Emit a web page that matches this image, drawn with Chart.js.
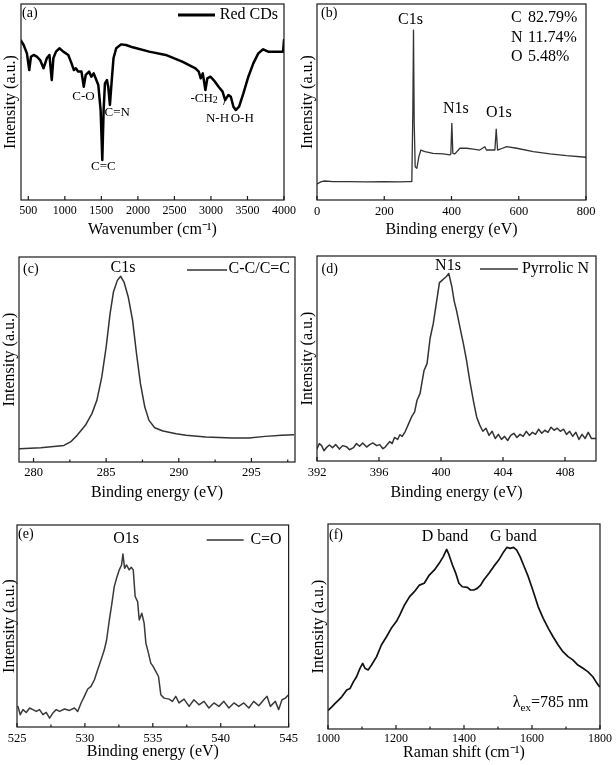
<!DOCTYPE html>
<html><head><meta charset="utf-8">
<script src="https://cdn.jsdelivr.net/npm/chart.js@4.4.0/dist/chart.umd.min.js"></script>
<style>
html,body{margin:0;padding:0;background:#fff;}
body{width:616px;height:765px;position:relative;overflow:hidden;}
canvas{position:absolute;}
</style>
</head><body>
<canvas id="pa"></canvas><canvas id="pb"></canvas>
<canvas id="pc"></canvas><canvas id="pd"></canvas>
<canvas id="pe"></canvas><canvas id="pf"></canvas>
<script>
const SERIF = "'Liberation Serif','Times New Roman',serif";

// (a) FTIR
const ftirWavenumber = [400,436,481,513,536,572,617,662,708,753,
  789,821,843,879,925,979,1047,1092,1124,1151,
  1182,1228,1259,1286,1332,1363,1395,1431,1458,1490,
  1513,1531,1549,1576,1594,1617,1639,1666,1703,1770,
  1838,1929,2155,2381,2607,2788,2833,2860,2888,2924,
  2951,2992,3037,3105,3159,3195,3240,3272,3308,3340,
  3385,3444,3512,3580,3648,3715,3783,3874,3987,3998,
  4000];
const ftirIntensity = [81.3,79.1,74.8,66.3,73.1,74.0,73.1,71.4,67.2,72.3,
  74.0,61.2,72.3,75.7,77.4,75.7,74.0,69.7,66.3,67.2,
  65.5,65.5,57.8,63.8,65.5,62.9,64.6,61.2,58.7,45.9,
  20.4,45.9,59.5,61.2,57.8,48.5,59.5,72.3,77.4,79.4,
  79.1,77.9,75.7,74.0,70.6,67.2,65.5,62.1,64.6,56.1,
  62.1,62.9,61.2,57.8,55.3,51.0,53.6,52.7,47.6,45.9,
  47.6,54.4,62.9,69.7,74.8,76.9,75.7,75.7,75.7,75.7,
  81.6];
const ftirTicks = [500,1000,1500,2000,2500,3000,3500,4000];

// (b) XPS survey
const surveyEnergy = [0,13,23,48,97,147,197,246,270,282,
  285,287,289,292,297,303,309,321,345,375,
  395,398,401,404,410,425,445,465,484,499,
  504,529,533,537,544,564,594,643,693,742,
  800];
const surveyIntensity = [8.2,9.4,9.7,9.4,9.4,9.2,9.4,9.2,9.4,9.4,
  45,86.7,40,17.0,16.2,22.1,25.5,24.7,23.8,23.5,
  23.0,23.5,39.1,23.8,23.5,26.4,26.4,26.0,25.5,27.2,
  25.5,25.5,36.1,25.5,25.9,27.2,26.4,24.7,23.5,22.6,
  21.8];
const surveyTicks = [0,200,400,600,800];

// (c) C1s
const c1sEnergy = [279.05,280.5,282.09,282.55,283.0,283.57,284.02,284.36,284.7,285.0,
  285.27,285.5,285.77,286.0,286.23,286.52,286.82,287.09,287.36,287.66,
  287.95,288.34,288.91,289.82,290.5,291.86,293.68,294.82,295.95,297.09,
  297.9];
const c1sIntensity = [6.5,7.0,8.1,9.8,13.0,17.9,23.6,30.1,41.5,56.1,
  72.4,82.9,88.6,90.6,87.8,80.5,69.1,52.8,38.2,26.8,
  20.3,16.7,15.1,13.8,13.0,12.2,11.7,11.7,12.5,13.0,
  13.3];
const c1sTicks = [280,285,290,295];
const c1sMinorTicks = [282.5,287.5,292.5,297.5];

// (d) N1s
const n1sEnergy = [392.0,392.15,392.3,392.45,392.6,392.8,393.0,393.2,393.45,393.65,
  393.9,394.1,394.35,394.55,394.75,394.95,395.2,395.4,395.6,395.85,
  396.05,396.25,396.4,396.7,396.85,397.0,397.2,397.35,397.5,397.7,
  397.9,398.1,398.3,398.45,398.65,398.9,399.1,399.3,399.5,399.7,
  399.9,400.05,400.2,400.35,400.5,400.7,400.85,401.0,401.2,401.45,
  401.65,401.85,402.1,402.3,402.5,402.7,402.9,403.1,403.3,403.5,
  403.7,403.9,404.1,404.3,404.5,404.7,404.9,405.1,405.3,405.5,
  405.7,405.9,406.1,406.3,406.5,406.7,406.9,407.1,407.3,407.5,
  407.7,407.9,408.1,408.3,408.5,408.7,408.9,409.1,409.3,409.5,
  409.7,410.0];
const n1sIntensity = [6.0,8.5,7.5,5.0,6.5,7.8,6.5,8.0,5.8,7.5,
  7.0,5.5,6.5,8.5,7.2,8.8,6.8,8.0,8.8,7.5,
  8.0,6.0,6.8,9.5,8.5,11.5,10.5,12.8,12.0,14.5,
  18.0,21.5,24.0,29.5,33.0,44.0,47.5,60.0,67.0,77.0,
  87.0,88.0,89.0,90.0,91.5,85.0,78.0,73.5,66.0,57.0,
  49.0,39.5,29.0,21.5,17.5,14.5,16.0,12.5,14.5,11.0,
  13.0,10.5,12.0,10.0,12.5,13.5,11.5,13.0,12.0,14.5,
  12.5,14.0,13.0,15.5,13.5,15.0,14.0,16.5,15.0,16.0,
  14.5,15.5,13.0,14.5,12.0,14.0,10.5,13.0,11.0,14.0,
  11.0,11.0];
const n1sTicks = [392,396,400,404,408];

// (e) O1s
const o1sEnergy = [525.07,525.24,525.44,525.68,525.93,526.17,526.42,526.66,526.91,527.15,
  527.4,527.64,527.89,528.13,528.5,528.86,529.23,529.47,529.72,529.96,
  530.21,530.45,530.7,530.94,531.19,531.43,531.6,531.8,531.99,532.16,
  532.33,532.53,532.7,532.8,532.92,533.07,533.26,533.41,533.56,533.7,
  533.88,534.0,534.19,534.36,534.49,534.68,534.85,535.02,535.22,535.42,
  535.59,535.83,536.2,536.44,536.69,536.93,537.3,537.67,538.03,538.4,
  538.77,539.13,539.5,539.87,540.23,540.6,540.97,541.33,541.7,542.07,
  542.43,542.8,543.17,543.41,543.66,544.02,544.27,544.51,544.76,545.0];
const o1sIntensity = [10.2,6.1,8.6,7.2,9.4,8.6,7.7,8.6,6.1,7.2,
  4.4,6.9,8.6,7.7,8.9,8.2,9.4,7.7,11.9,15.2,
  18.8,20.1,23.4,28.3,33.3,38.2,43.2,53.0,61.3,69.5,
  73.6,77.8,80.2,85.7,78.6,80.2,77.8,79.1,77.8,64.6,
  62.1,53.0,56.3,51.4,41.5,36.6,31.6,30.0,27.5,25.0,
  16.0,14.3,13.8,12.7,15.2,11.9,13.8,10.2,13.5,11.0,
  12.7,9.4,11.9,10.2,12.7,9.4,11.9,10.2,11.9,9.4,
  12.7,10.5,13.5,15.2,10.2,12.7,8.6,13.5,14.3,16.0];
const o1sTicks = [525,530,535,540,545];
const o1sMinorTicks = [527.5,532.5,537.5,542.5];

// (f) Raman
const ramanShift = [1002,1012,1021,1031,1041,1055,1065,1075,1084,1094,
  1102,1109,1118,1128,1143,1157,1172,1186,1201,1211,
  1225,1240,1254,1269,1283,1298,1313,1327,1339,1349,
  1356,1366,1376,1385,1395,1410,1419,1429,1439,1449,
  1458,1473,1487,1502,1517,1526,1536,1546,1555,1565,
  1575,1589,1604,1618,1633,1648,1662,1677,1691,1706,
  1720,1735,1750,1764,1779,1788,1798];
const ramanIntensity = [9.3,10.9,12.5,14.1,15.8,19.0,19.8,23.1,25.5,29.6,
  32.0,29.6,28.8,31.2,35.3,41.0,45.0,49.1,52.4,55.6,
  60.5,64.6,67.0,70.2,71.1,75.1,77.6,80.8,84.1,87.6,
  84.9,80.0,75.9,71.1,69.4,69.1,67.8,67.8,68.6,70.2,
  72.7,75.9,79.2,82.4,86.5,88.6,88.1,88.6,87.3,84.1,
  80.0,74.3,67.0,59.7,54.0,49.1,45.0,41.0,37.7,35.3,
  33.7,31.2,29.6,28.0,25.5,23.1,20.7];
const ramanTicks = [1000,1200,1400,1600,1800];
const ramanMinorTicks = [1100,1300,1500,1700];

// annotation texts
const ftirBands = ['C-O','C=N','C=C','-CH2','N-H','O-H'];
const composition = [['C','82.79%'],['N','11.74%'],['O','5.48%']];

function label(ctx, s, x, y, size, align) {
  ctx.font = size + 'px ' + SERIF;
  ctx.fillStyle = '#000';
  ctx.textAlign = align || 'center';
  ctx.textBaseline = 'middle';
  ctx.fillText(s, x, y);
}
function seg(ctx, x1, y1, x2, y2, w, c) {
  ctx.save(); ctx.strokeStyle = c || '#000'; ctx.lineWidth = w;
  ctx.beginPath(); ctx.moveTo(x1, y1); ctx.lineTo(x2, y2); ctx.stroke(); ctx.restore();
}
function drawFrame(chart, o) {
  const {ctx, chartArea: a, scales: {x}} = chart;
  ctx.save();
  ctx.strokeStyle = '#1a1a1a'; ctx.lineWidth = 1.2;
  ctx.strokeRect(a.left, a.top, a.right - a.left, a.bottom - a.top);
  ctx.beginPath();
  o.ticks.forEach(v => { const p = x.getPixelForValue(v); ctx.moveTo(p, a.bottom); ctx.lineTo(p, a.bottom - 4); });
  (o.minor || []).forEach(v => { const p = x.getPixelForValue(v); ctx.moveTo(p, a.bottom); ctx.lineTo(p, a.bottom - 2.5); });
  ctx.stroke();
  ctx.restore();
}

function makePanel(o) {
  const cv = document.getElementById(o.id);
  const W = (o.plot[2] - o.plot[0]) + o.pad[0] + o.pad[2];
  const H = (o.plot[3] - o.plot[1]) + o.pad[1] + o.pad[3];
  cv.width = W; cv.height = H;
  cv.style.left = (o.plot[0] - o.pad[0]) + 'px';
  cv.style.top = (o.plot[1] - o.pad[1]) + 'px';
  cv.style.width = W + 'px'; cv.style.height = H + 'px';
  const pts = o.xs.map((x, i) => ({x: x, y: o.ys[i]}));
  return new Chart(cv, {
    type: 'line',
    data: {datasets: [{data: pts, borderColor: o.color, borderWidth: o.lw, pointRadius: 0,
      tension: 0, fill: false, borderJoinStyle: 'round', borderCapStyle: 'round'}]},
    options: {
      responsive: false, maintainAspectRatio: false, animation: false, devicePixelRatio: 1, events: [],
      layout: {padding: {left: 0, top: o.pad[1], right: o.pad[2], bottom: 0}},
      plugins: {legend: {display: false}, tooltip: {enabled: false}},
      scales: {
        x: {type: 'linear', min: o.xmin, max: o.xmax,
          afterBuildTicks: s => { s.ticks = o.ticks.map(v => ({value: v})); },
          afterFit: s => { s.height = o.pad[3]; },
          grid: {display: false, drawTicks: false}, border: {display: false},
          ticks: {autoSkip: false, maxRotation: 0, minRotation: 0, padding: o.tickPad, color: '#000',
            font: {family: SERIF, size: o.tickSize}, callback: v => String(v)},
          title: {display: true, text: o.xTitle, color: '#000', font: {family: SERIF, size: 16}, padding: 0}},
        y: {type: 'linear', min: 0, max: 100,
          afterFit: s => { s.width = o.pad[0]; },
          grid: {display: false, drawTicks: false}, border: {display: false}, ticks: {display: false},
          title: {display: true, text: 'Intensity (a.u.)', color: '#000', font: {family: SERIF, size: 16}, padding: 0}}
      }
    },
    plugins: [{id: 'decor', afterDatasetsDraw(chart) { drawFrame(chart, o); if (o.decor) o.decor(chart); }}]
  });
}

// (a)
makePanel({id: 'pa', plot: [21, 4, 286, 200], pad: [20, 4, 14, 39], xmin: 400, xmax: 4000,
  xs: ftirWavenumber, ys: ftirIntensity, ticks: ftirTicks, tickSize: 12, tickPad: 4,
  xTitle: 'Wavenumber (cm\u207B\u00B9)', color: '#000', lw: 2.5,
  decor: chart => {
    const {ctx, chartArea: a, scales: {x, y}} = chart;
    label(ctx, '(a)', a.left + 1, a.top + 9.5, 14, 'left');
    seg(ctx, a.right - 106, a.top + 11, a.right - 69, a.top + 11, 3);
    label(ctx, 'Red CDs', a.right - 6, a.top + 11, 16, 'right');
    const bx = [1256, 1718, 1528, 2906, 3090, 3429];
    const by = [52.6, 44.4, 17.3, 51.5, 41.3, 41.3];
    ftirBands.forEach((t, i) => {
      const px = x.getPixelForValue(bx[i]), py = y.getPixelForValue(by[i]);
      if (t === '-CH2') {
        ctx.font = '13px ' + SERIF;
        const w1 = ctx.measureText('-CH').width;
        ctx.font = '10px ' + SERIF;
        const w2 = ctx.measureText('2').width;
        const s = px - (w1 + w2) / 2;
        label(ctx, '-CH', s, py, 13, 'left');
        label(ctx, '2', s + w1, py + 1, 10, 'left');
      } else {
        label(ctx, t, px, py, 13);
      }
    });
    seg(ctx, x.getPixelForValue(3171), y.getPixelForValue(48.5), x.getPixelForValue(3205), y.getPixelForValue(52), 0.8);
  }});

// (b)
makePanel({id: 'pb', plot: [317, 4, 586, 200], pad: [19, 4, 14, 39], xmin: 0, xmax: 800,
  xs: surveyEnergy, ys: surveyIntensity, ticks: surveyTicks, tickSize: 12.5, tickPad: 4,
  xTitle: 'Binding energy (eV)', color: '#333', lw: 1.3,
  decor: chart => {
    const {ctx, chartArea: a, scales: {x, y}} = chart;
    label(ctx, '(b)', a.left + 4, a.top + 9, 14, 'left');
    label(ctx, 'C1s', x.getPixelForValue(278), y.getPixelForValue(92.1), 16);
    label(ctx, 'N1s', x.getPixelForValue(413), y.getPixelForValue(46.4), 16);
    label(ctx, 'O1s', x.getPixelForValue(541), y.getPixelForValue(44.6), 16);
    const rows = [13.7, 33.5, 52.7];
    composition.forEach((c, i) => {
      label(ctx, c[0], a.right - 75, a.top + rows[i], 16, 'left');
      label(ctx, c[1], a.right - 58, a.top + rows[i], 16, 'left');
    });
  }});

// (c)
makePanel({id: 'pc', plot: [19, 257, 295, 462], pad: [19, 7, 12, 40], xmin: 279, xmax: 298,
  xs: c1sEnergy, ys: c1sIntensity, ticks: c1sTicks, minor: c1sMinorTicks, tickSize: 12.5, tickPad: 3,
  xTitle: 'Binding energy (eV)', color: '#333', lw: 1.5,
  decor: chart => {
    const {ctx, chartArea: a, scales: {x, y}} = chart;
    label(ctx, '(c)', a.left + 4, a.top + 12, 14, 'left');
    label(ctx, 'C1s', x.getPixelForValue(286.16), y.getPixelForValue(94.6), 16);
    seg(ctx, a.right - 108, a.top + 13, a.right - 68, a.top + 13, 1.5, '#333');
    label(ctx, 'C-C/C=C', a.right - 5, a.top + 12, 16, 'right');
  }});

// (d)
makePanel({id: 'pd', plot: [317, 256, 596, 461], pad: [19, 6, 14, 41], xmin: 392, xmax: 410,
  xs: n1sEnergy, ys: n1sIntensity, ticks: n1sTicks, tickSize: 12.5, tickPad: 4,
  xTitle: 'Binding energy (eV)', color: '#333', lw: 1.5,
  decor: chart => {
    const {ctx, chartArea: a, scales: {x, y}} = chart;
    label(ctx, '(d)', a.left + 4.5, a.top + 13, 14, 'left');
    label(ctx, 'N1s', x.getPixelForValue(400.45), y.getPixelForValue(95.2), 16);
    seg(ctx, a.right - 116, a.top + 13, a.right - 78, a.top + 13, 1.5, '#333');
    label(ctx, 'Pyrrolic N', a.right - 7, a.top + 13, 16, 'right');
  }});

// (e)
makePanel({id: 'pe', plot: [17, 525, 290, 727], pad: [17, 5, 12, 34], xmin: 525, xmax: 545,
  xs: o1sEnergy, ys: o1sIntensity, ticks: o1sTicks, minor: o1sMinorTicks, tickSize: 12.5, tickPad: 4,
  xTitle: 'Binding energy (eV)', color: '#3a3a3a', lw: 1.5,
  decor: chart => {
    const {ctx, chartArea: a, scales: {x, y}} = chart;
    label(ctx, '(e)', a.left + 1, a.top + 9.5, 14, 'left');
    label(ctx, 'O1s', x.getPixelForValue(533.04), y.getPixelForValue(93), 16);
    seg(ctx, a.right - 82, a.top + 15, a.right - 45, a.top + 15, 1.5, '#333');
    label(ctx, 'C=O', a.right - 7, a.top + 15, 16, 'right');
  }});

// (f)
makePanel({id: 'pf', plot: [328, 524, 602, 729], pad: [19, 4, 13, 33], xmin: 1000, xmax: 1800,
  xs: ramanShift, ys: ramanIntensity, ticks: ramanTicks, minor: ramanMinorTicks, tickSize: 12, tickPad: 3,
  xTitle: 'Raman shift (cm\u207B\u00B9)', color: '#111', lw: 1.7,
  decor: chart => {
    const {ctx, chartArea: a, scales: {x, y}} = chart;
    label(ctx, '(f)', a.left + 1, a.top + 11, 14, 'left');
    label(ctx, 'D band', x.getPixelForValue(1344), y.getPixelForValue(93.8), 16);
    label(ctx, 'G band', x.getPixelForValue(1545), y.getPixelForValue(93.8), 16);
    ctx.font = '16px ' + SERIF; const w1 = ctx.measureText('\u03BB').width;
    const w3 = ctx.measureText('=785 nm').width;
    ctx.font = '11px ' + SERIF; const w2 = ctx.measureText('ex').width;
    const yy = a.top + 179;
    let sx = a.right - 11.6 - (w1 + w2 + w3);
    label(ctx, '\u03BB', sx, yy, 16, 'left');
    label(ctx, 'ex', sx + w1, yy + 5, 11, 'left');
    label(ctx, '=785 nm', sx + w1 + w2, yy, 16, 'left');
  }});
</script>
</body></html>
